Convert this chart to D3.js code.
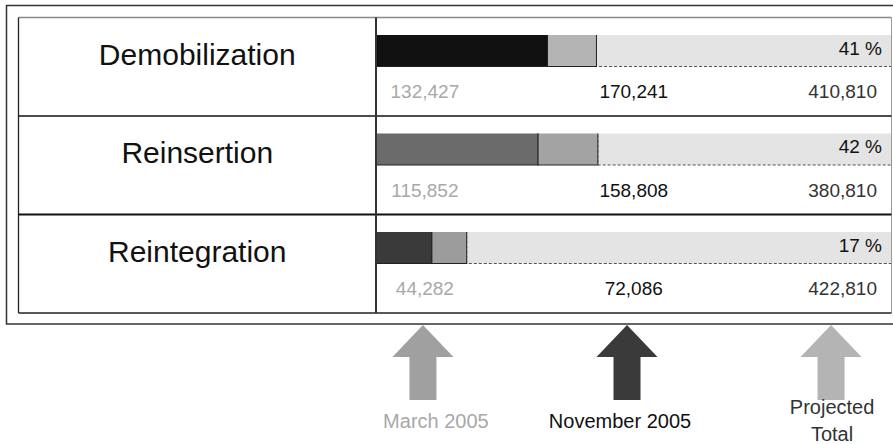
<!DOCTYPE html>
<html lang="en">
<head>
    <meta charset="UTF-8">
    <title>DDR progress</title>
    <script src="https://d3js.org/d3.v7.min.js"></script>
    <style>
        body {
            margin: 0;
            padding: 0;
            background-color: #ffffff;
        }

        svg text {
            font-family: 'Liberation Sans', Arial, sans-serif;
        }
    </style>
</head>
<body>
    <svg id="chart" width="893" height="444"></svg>

    <script>
        // data
        const stages = ['Demobilization', 'Reinsertion', 'Reintegration'];
        const march2005 = [132427, 115852, 44282];
        const november2005 = [170241, 158808, 72086];
        const projectedTotal = [410810, 380810, 422810];
        const markers = ['March 2005', 'November 2005', 'Projected Total'];

        // styles
        const firstFill = ['#111111', '#6b6b6b', '#3a3a3a'];
        const secondFill = ['#b4b4b4', '#a3a3a3', '#9c9c9c'];
        const restFill = '#e4e4e4';
        const markerFill = ['#a0a0a0', '#3a3a3a', '#b4b4b4'];
        const markerText = ['#a8a8a8', '#111111', '#333333'];
        const numberText = ['#a8a8a8', '#111111', '#333333'];

        const fmt = d3.format(',');

        const svg = d3.select('#chart');

        const table = { left: 18.5, top: 17.5, right: 891.5, bottom: 313, split: 376 };
        const barSpan = 532;
        const barHeight = 37.5;

        const y = d3.scaleBand()
            .domain(stages)
            .range([table.top, table.bottom]);

        const col = d3.scalePoint()
            .domain(markers)
            .range([table.split, table.right])
            .padding(0.234);

        const arrowX = d3.scalePoint()
            .domain(markers)
            .range([table.split, 878])
            .padding(0.23);

        // outer frame
        svg.append('rect')
            .attr('x', 6.5).attr('y', 5.5)
            .attr('width', 900).attr('height', 318.5)
            .attr('fill', 'none')
            .attr('stroke', '#333')
            .attr('stroke-width', 1.5);

        svg.append('defs').append('clipPath')
            .attr('id', 'cell')
            .append('rect')
            .attr('x', table.split).attr('y', table.top)
            .attr('width', table.right - table.split).attr('height', table.bottom - table.top);

        // rows
        const rows = svg.append('g')
            .selectAll('g')
            .data(stages)
            .join('g')
            .attr('transform', d => `translate(0,${y(d)})`);

        rows.append('text')
            .attr('x', (table.left + table.split) / 2)
            .attr('y', 47)
            .attr('text-anchor', 'middle')
            .attr('font-size', 30)
            .attr('fill', '#111')
            .text(d => d);

        const bars = rows.append('g')
            .attr('clip-path', 'url(#cell)');

        bars.each(function (d, i) {
            const g = d3.select(this);
            const x = d3.scaleLinear()
                .domain([0, projectedTotal[i]])
                .range([table.split, table.split + barSpan]);

            // projected total (background)
            g.append('rect')
                .attr('x', x(november2005[i]))
                .attr('y', 11.5)
                .attr('width', x(projectedTotal[i]) - x(november2005[i]))
                .attr('height', barHeight)
                .attr('fill', restFill)
                .attr('stroke', '#555')
                .attr('stroke-dasharray', '3,2');

            // november 2005
            g.append('rect')
                .attr('x', x(march2005[i]))
                .attr('y', 11.5)
                .attr('width', x(november2005[i]) - x(march2005[i]))
                .attr('height', barHeight)
                .attr('fill', secondFill[i])
                .attr('stroke', '#222');

            // march 2005
            g.append('rect')
                .attr('x', x(0))
                .attr('y', 11.5)
                .attr('width', x(march2005[i]) - x(0))
                .attr('height', barHeight)
                .attr('fill', firstFill[i])
                .attr('stroke', '#222');

            g.append('text')
                .attr('x', 882)
                .attr('y', 37)
                .attr('text-anchor', 'end')
                .attr('font-size', 19)
                .attr('fill', '#111')
                .text(Math.round(november2005[i] / projectedTotal[i] * 100) + ' %');

            const values = [march2005[i], november2005[i], projectedTotal[i]];
            d3.select(this.parentNode).selectAll('text.num')
                .data(values)
                .join('text')
                .attr('class', 'num')
                .attr('x', (v, j) => col(markers[j]))
                .attr('y', 80.5)
                .attr('text-anchor', 'middle')
                .attr('font-size', 19)
                .attr('fill', (v, j) => numberText[j])
                .text(v => fmt(v));
        });

        // table lines
        const lines = svg.append('g').attr('fill', 'none');

        lines.append('line')
            .attr('x1', table.left).attr('x2', table.right)
            .attr('y1', table.top).attr('y2', table.top)
            .attr('stroke', '#888').attr('stroke-width', 1.3);

        lines.append('line')
            .attr('x1', table.right).attr('x2', table.right)
            .attr('y1', table.top).attr('y2', table.bottom)
            .attr('stroke', '#999').attr('stroke-width', 1);

        lines.append('line')
            .attr('x1', table.left).attr('x2', table.left)
            .attr('y1', table.top).attr('y2', table.bottom)
            .attr('stroke', '#222').attr('stroke-width', 1.3);

        lines.append('line')
            .attr('x1', table.left).attr('x2', table.right)
            .attr('y1', table.bottom).attr('y2', table.bottom)
            .attr('stroke', '#222').attr('stroke-width', 1.3);

        lines.selectAll('line.row')
            .data(stages.slice(1))
            .join('line')
            .attr('class', 'row')
            .attr('x1', table.left).attr('x2', table.right)
            .attr('y1', d => y(d)).attr('y2', d => y(d))
            .attr('stroke', '#111').attr('stroke-width', (d, i) => i === 0 ? 1.3 : 2);

        lines.append('line')
            .attr('x1', table.split).attr('x2', table.split)
            .attr('y1', table.top).attr('y2', table.bottom)
            .attr('stroke', '#333').attr('stroke-width', 2);

        // arrows
        const arrow = cx => {
            const p = d3.path();
            p.moveTo(cx, 325);
            p.lineTo(cx + 30.5, 357);
            p.lineTo(cx + 13.5, 357);
            p.lineTo(cx + 13.5, 400);
            p.lineTo(cx - 13.5, 400);
            p.lineTo(cx - 13.5, 357);
            p.lineTo(cx - 30.5, 357);
            p.closePath();
            return p.toString();
        };

        const marks = svg.append('g')
            .selectAll('g')
            .data(markers)
            .join('g');

        marks.append('path')
            .attr('d', d => arrow(arrowX(d)))
            .attr('fill', (d, i) => markerFill[i]);

        // labels sit a little off the arrow centre in the original
        const labelShift = [13, -7, 1];

        marks.append('text')
            .attr('text-anchor', 'middle')
            .attr('font-size', 20)
            .attr('fill', (d, i) => markerText[i])
            .each(function (d, i) {
                const parts = d === 'Projected Total' ? ['Projected', 'Total'] : [d];
                const t = d3.select(this);
                parts.forEach((s, k) => {
                    t.append('tspan')
                        .attr('x', arrowX(d) + labelShift[i])
                        .attr('y', parts.length > 1 ? 414 + k * 27 : 428)
                        .text(s);
                });
            });
    </script>
</body>
</html>
